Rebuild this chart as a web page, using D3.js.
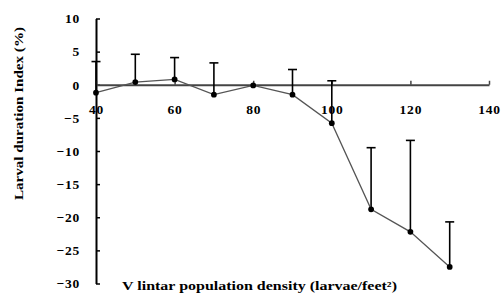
<!DOCTYPE html>
<html>
<head>
<meta charset="utf-8">
<script src="https://cdn.jsdelivr.net/npm/d3@7"></script>
<style>
  body { margin: 0; background: #fff; }
  text { font-family: "Liberation Serif", "Times New Roman", serif; font-weight: bold; }
</style>
</head>
<body>
<div class="visual"></div>
<script>
// data
const density = [40, 50, 60, 70, 80, 90, 100, 110, 120, 130];
const durationIndex = [-1.2, 0.4, 0.8, -1.5, -0.1, -1.5, -5.8, -18.8, -22.2, -27.5];
const errUp = [4.7, 4.2, 3.3, 4.8, 0, 3.8, 6.4, 9.3, 13.8, 6.8];
const xTicks = [40, 60, 80, 100, 120, 140];
const yTicks = [10, 5, 0, -5, -10, -15, -20, -25, -30];

const width = 503, height = 294;

const svg = d3.select(".visual")
  .append("svg")
  .attr("width", width)
  .attr("height", height);

const xScale = d3.scaleLinear().domain([40, 140]).range([96, 489]);
const yScale = d3.scaleLinear().domain([-30, 10]).range([283.5, 18.5]);

// y axis, ticks inside
const yAxis = d3.axisLeft(yScale)
  .tickValues(yTicks)
  .tickSize(-4)
  .tickSizeOuter(0)
  .tickPadding(16)
  .tickFormat(d3.format("d"));
const gy = svg.append("g")
  .attr("transform", "translate(" + xScale(40) + ",0)")
  .call(yAxis);
gy.select(".domain").attr("stroke", "#000").attr("stroke-width", 2);
gy.selectAll(".tick line").attr("stroke", "#000").attr("stroke-width", 1.5);
gy.selectAll("text").attr("font-size", 13.5).attr("letter-spacing", 0.8).attr("fill", "#000");

// x axis along zero line, ticks upward, labels below
const xAxis = d3.axisBottom(xScale)
  .tickValues(xTicks)
  .tickSize(-4)
  .tickSizeOuter(0)
  .tickPadding(20);
const gx = svg.append("g")
  .attr("transform", "translate(0," + yScale(0) + ")")
  .call(xAxis);
gx.select(".domain").attr("stroke", "#444").attr("stroke-width", 2);
gx.selectAll(".tick line").attr("stroke", "#444").attr("stroke-width", 1.5);
gx.selectAll("text").attr("font-size", 13.5).attr("letter-spacing", 0.8).attr("fill", "#000");

// error bars (upper side only)
const errTop = i => yScale(durationIndex[i] + errUp[i]);
const idx = density.map((d, i) => i).filter(i => errUp[i] > 0);
const eb = svg.selectAll(".err")
  .data(idx)
  .enter()
  .append("g")
  .attr("class", "err");
eb.append("line")
  .attr("x1", i => xScale(density[i]))
  .attr("x2", i => xScale(density[i]))
  .attr("y1", i => yScale(durationIndex[i]))
  .attr("y2", i => errTop(i))
  .attr("stroke", "#000")
  .attr("stroke-width", 1.6);
eb.append("line")
  .attr("x1", i => xScale(density[i]) - 4.5)
  .attr("x2", i => xScale(density[i]) + 4.5)
  .attr("y1", i => errTop(i))
  .attr("y2", i => errTop(i))
  .attr("stroke", "#000")
  .attr("stroke-width", 1.6);

// line
const line = d3.line()
  .x((d, i) => xScale(density[i]))
  .y(d => yScale(d));
svg.append("path")
  .datum(durationIndex)
  .attr("d", line)
  .attr("fill", "none")
  .attr("stroke", "#555")
  .attr("stroke-width", 1.3);

// markers
svg.selectAll(".dot")
  .data(durationIndex)
  .enter()
  .append("path")
  .attr("class", "dot")
  .attr("d", d3.symbol().type(d3.symbolCircle).size(26))
  .attr("transform", (d, i) => "translate(" + xScale(density[i]) + "," + yScale(d) + ")")
  .attr("fill", "#000");

// axis titles
svg.append("text")
  .attr("transform", "translate(23,113.5) rotate(-90)")
  .attr("text-anchor", "middle")
  .attr("font-size", 13)
  .attr("textLength", 173)
  .attr("lengthAdjust", "spacingAndGlyphs")
  .text("Larval duration Index (%)");

svg.append("text")
  .attr("x", 122)
  .attr("y", 290)
  .attr("font-size", 13)
  .attr("textLength", 275)
  .attr("lengthAdjust", "spacingAndGlyphs")
  .text("V lintar population density (larvae/feet\u00B2)");
</script>
</body>
</html>
